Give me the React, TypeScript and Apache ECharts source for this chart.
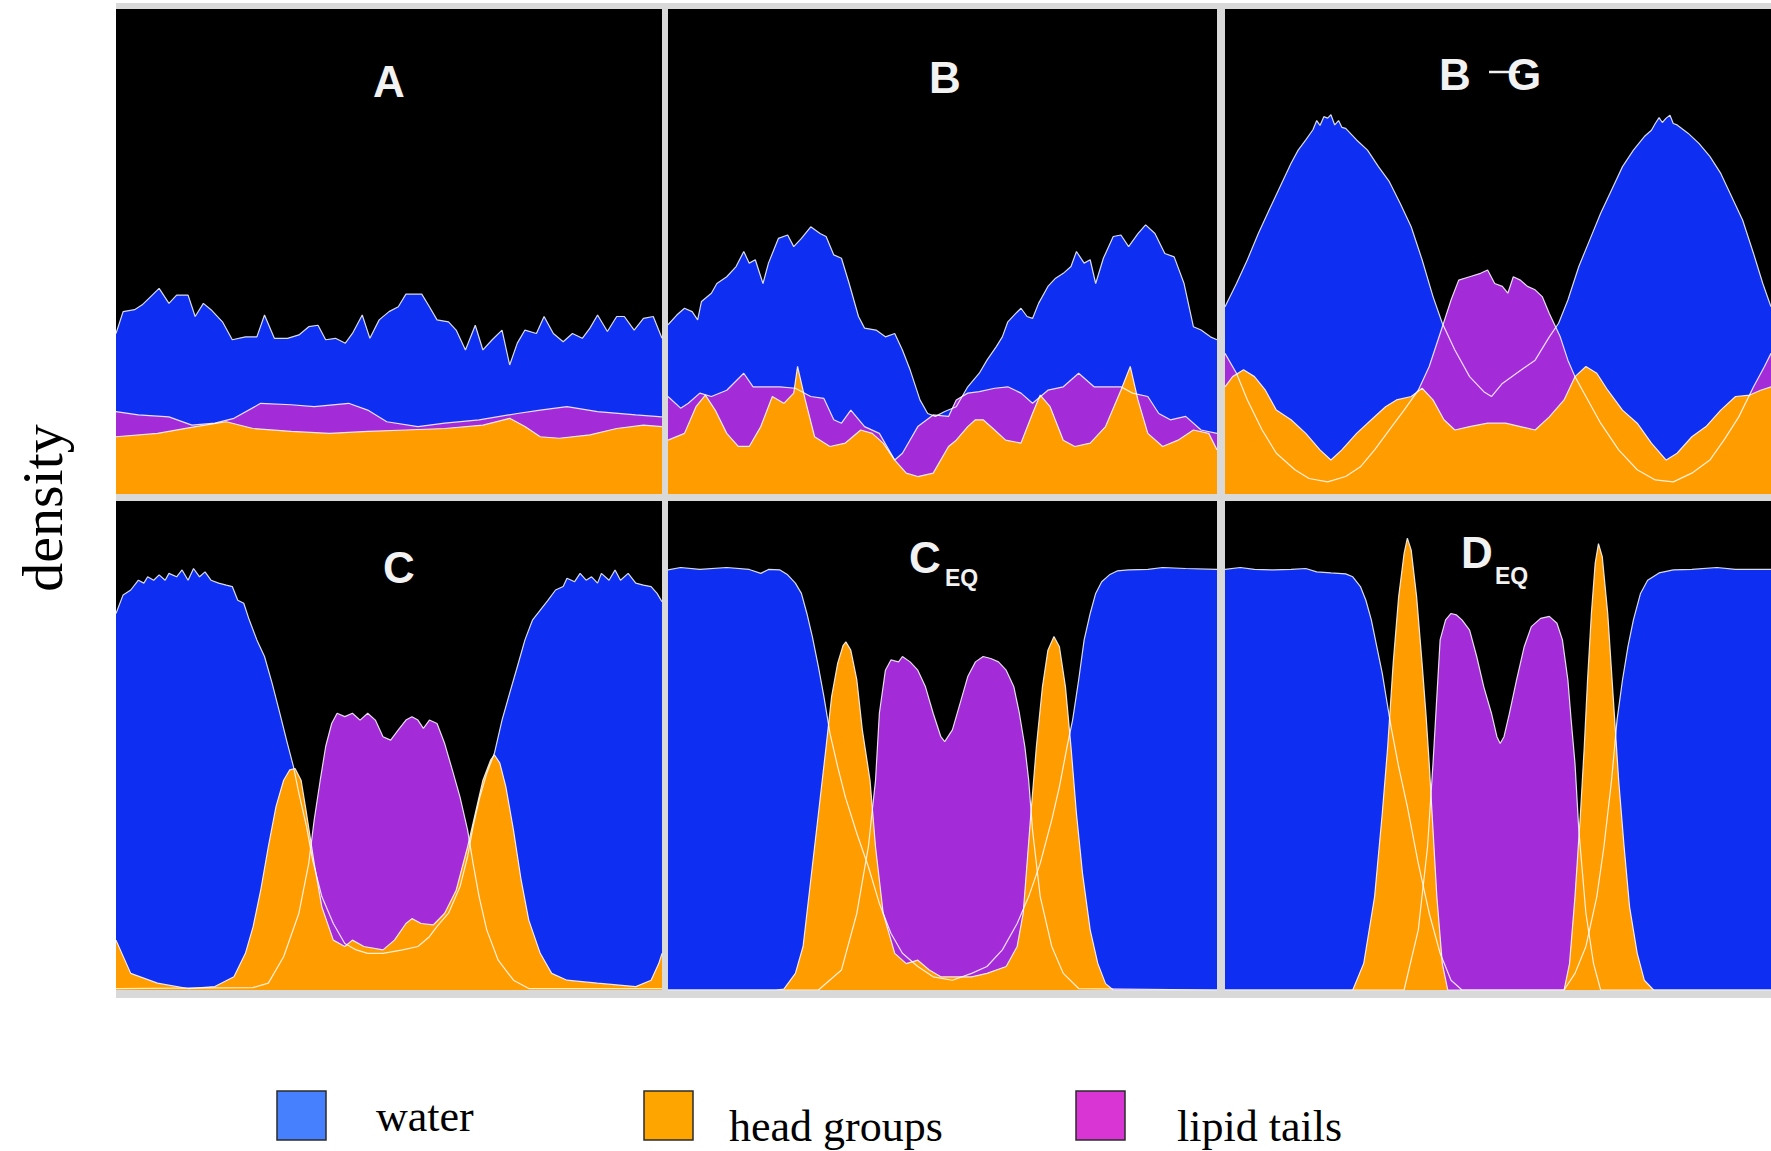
import React, { useEffect, useRef } from "react";
import * as echarts from "echarts";

// ---------- data (x: 0–100 across panel, y: density 0–100 of panel height) ----------
const panelTitles = ["A", "B", "B –G", "C", "CEQ", "DEQ"];
const legendNames = ["water", "head groups", "lipid tails"];

const aWater = [[0,33.1],[1.3,37.6],[3.4,38.0],[4.8,39.0],[7.9,42.4],[9.7,39.3],[11.1,41.0],[13.2,41.0],[14.5,36.6],[16.0,39.3],[17.4,38.0],[19.5,35.5],[21.3,31.8],[23.7,32.4],[25.8,32.4],[27.2,36.9],[29.0,32.1],[31.4,32.1],[33.5,32.8],[35.3,34.5],[37.0,34.8],[38.4,31.8],[40.2,32.1],[42.0,31.1],[43.3,33.1],[45.1,36.9],[46.5,32.1],[48.2,35.9],[50.0,37.6],[51.7,38.6],[53.1,41.2],[56.0,41.2],[57.4,38.6],[58.8,35.9],[60.9,35.5],[62.3,33.8],[64.0,29.7],[65.8,34.8],[67.2,29.7],[68.9,31.8],[70.7,33.8],[72.1,26.6],[73.5,31.1],[74.9,33.8],[77.0,33.1],[78.4,36.6],[80.1,33.1],[81.9,31.4],[83.6,33.1],[85.4,32.1],[86.8,34.2],[88.2,36.9],[90.0,33.5],[91.7,36.6],[93.1,36.6],[94.9,33.8],[96.6,36.2],[98.4,36.6],[100,32.1]];
const aTails = [[0,17.0],[4.1,16.3],[9.7,15.9],[13.9,14.2],[18.1,14.6],[21.6,15.6],[26.5,18.7],[32.1,18.4],[36.3,18.0],[42.6,18.7],[46.1,17.3],[49.6,14.9],[55.3,13.9],[60.2,14.6],[66.5,15.3],[73.5,16.6],[77.7,17.3],[82.6,18.0],[88.2,17.0],[95.2,16.3],[100,15.9]];
const aHeads = [[0,11.8],[7.6,12.5],[14.6,13.9],[20.2,14.9],[25.1,13.5],[32.1,12.9],[39.1,12.5],[46.1,12.9],[53.1,13.2],[60.2,13.5],[67.2,14.2],[72.1,15.6],[74.9,13.9],[77.7,11.8],[81.2,11.5],[86.8,12.2],[91.7,13.5],[96.6,14.2],[100,13.9]];

const bWater = [[0,34.9],[1.6,36.9],[3.0,38.3],[4.4,37.6],[5.4,35.9],[6.1,39.7],[7.9,41.4],[8.9,43.4],[10.7,44.8],[12.4,46.9],[13.8,50.0],[14.8,47.6],[15.9,48.3],[17.3,43.4],[18.3,47.6],[20.1,52.7],[21.8,53.4],[22.9,51.0],[24.3,52.7],[26.0,55.1],[27.7,53.7],[28.8,53.1],[30.2,49.3],[31.6,48.6],[33.0,43.4],[34.7,36.6],[35.8,34.2],[37.9,33.8],[39.6,32.4],[41.3,33.1],[42.7,29.7],[44.1,25.6],[45.9,19.4],[47.3,16.6],[48.7,16.0],[50.4,17.0],[52.5,18.0],[54.6,22.1],[56.7,24.9],[58.1,27.6],[59.8,30.4],[60.9,32.4],[61.9,35.5],[63.3,37.2],[64.3,38.3],[65.4,36.6],[66.4,36.2],[67.5,39.3],[69.2,42.8],[70.6,44.5],[72.0,45.5],[73.4,46.9],[74.4,50.0],[75.8,47.6],[76.9,48.3],[77.9,43.4],[79.3,48.6],[81.1,53.1],[82.5,53.4],[83.9,51.0],[85.6,53.7],[87.0,55.5],[88.7,53.7],[90.5,49.6],[92.2,48.9],[94.0,43.4],[95.7,34.5],[97.1,33.8],[98.8,32.4],[100,31.8]];
const bTails = [[0,20.1],[2.3,17.7],[3.7,18.7],[5.8,20.8],[7.9,20.1],[10.7,21.4],[13.8,24.9],[15.5,22.1],[20.4,22.1],[23.2,21.8],[26.0,20.1],[28.4,19.7],[30.2,15.3],[31.6,14.6],[33.3,17.3],[35.8,13.9],[38.5,12.5],[41.3,7.0],[42.7,8.4],[45.5,13.9],[48.3,16.3],[51.1,16.0],[52.5,19.4],[54.6,20.8],[56.7,21.1],[59.5,21.8],[61.9,22.1],[64.3,20.8],[66.4,18.7],[69.2,21.4],[72.0,22.1],[74.8,24.9],[77.6,22.1],[82.5,22.1],[84.6,20.8],[87.4,20.1],[89.4,16.6],[91.5,15.3],[94.3,16.0],[97.1,13.2],[100,12.5]];
const bHeads = [[0,11.1],[3.0,12.5],[5.1,18.0],[6.8,20.4],[8.6,17.3],[10.7,12.5],[12.8,9.8],[14.8,9.8],[16.9,13.9],[19.0,20.1],[21.1,18.7],[22.9,20.8],[23.6,26.3],[25.0,19.4],[26.7,11.8],[29.5,9.8],[32.3,10.5],[35.1,13.2],[37.2,12.5],[39.2,10.5],[41.3,7.0],[43.4,4.3],[45.5,3.6],[48.3,4.3],[51.1,9.8],[52.5,11.1],[54.6,13.9],[56.0,15.3],[57.4,15.3],[59.5,13.2],[61.5,11.1],[64.3,10.5],[66.4,16.6],[67.8,20.4],[69.6,18.0],[72.0,11.1],[74.1,9.8],[76.9,10.5],[79.7,13.9],[82.5,21.4],[84.2,26.3],[85.6,19.4],[87.4,12.5],[90.1,9.8],[92.9,11.1],[95.7,13.2],[98.5,12.5],[100,9.1]];

const bgWater = [[0,38.6],[2.1,43.4],[4.1,48.3],[6.1,53.7],[8.1,58.6],[10.1,63.4],[12.1,68.2],[13.4,70.9],[14.8,73.0],[16.1,75.1],[16.8,77.0],[17.4,76.0],[18.1,77.8],[18.8,77.5],[19.4,78.2],[20.1,76.1],[20.8,77.0],[21.4,75.6],[22.1,75.4],[24.1,73.0],[26.1,70.9],[28.1,67.5],[30.1,64.4],[32.1,59.9],[34.1,55.1],[36.1,48.3],[38.1,40.7],[39.8,35.2],[42.1,29.7],[44.8,24.2],[47.4,21.1],[48.8,20.1],[50.8,22.8],[53.4,24.9],[56.8,27.6],[59.4,32.4],[61.1,35.2],[62.8,40.0],[64.8,46.9],[66.8,52.4],[68.8,57.9],[70.8,62.7],[72.8,67.5],[74.8,70.9],[76.8,73.7],[78.1,75.0],[78.8,76.4],[79.5,77.6],[80.1,76.6],[80.8,77.5],[81.5,78.1],[82.1,76.4],[82.8,76.1],[84.8,74.4],[86.8,72.3],[88.8,69.6],[90.8,66.1],[92.8,61.3],[94.8,56.5],[96.8,49.6],[98.5,43.4],[100,38.6]];
const bgTails = [[0,29.0],[2.1,24.9],[4.1,19.4],[6.8,13.2],[9.4,8.4],[12.8,5.0],[15.4,3.2],[18.8,2.5],[22.1,3.6],[24.8,5.6],[27.4,9.1],[30.1,13.2],[32.8,17.3],[35.4,21.4],[37.4,26.3],[39.4,33.1],[41.4,40.0],[42.8,44.1],[44.8,44.8],[46.8,45.5],[48.1,46.2],[49.4,43.4],[50.8,42.8],[51.8,41.4],[52.8,44.8],[54.1,44.1],[55.4,42.8],[56.8,42.1],[58.1,40.7],[59.4,37.2],[61.4,32.4],[62.8,27.6],[64.1,24.2],[66.1,20.1],[68.8,14.6],[72.1,9.1],[75.5,5.0],[78.8,2.9],[82.1,2.5],[85.5,4.3],[88.8,7.0],[91.5,11.3],[94.1,15.9],[96.8,22.1],[98.8,26.3],[100,29.0]];
const bgHeads = [[0,22.1],[1.4,24.2],[3.4,25.6],[5.4,24.2],[7.4,21.4],[9.4,17.3],[12.1,15.3],[14.8,12.5],[17.4,9.1],[19.4,7.0],[21.4,9.1],[24.1,12.5],[26.8,15.3],[29.4,18.0],[31.4,19.4],[34.1,20.1],[36.1,21.8],[38.1,19.4],[40.1,15.3],[42.1,13.2],[44.8,13.9],[48.1,14.6],[51.4,14.6],[54.1,13.9],[56.8,13.2],[59.4,15.9],[62.1,19.4],[64.1,24.2],[66.1,26.3],[68.1,24.9],[70.1,21.4],[72.8,17.3],[75.5,14.6],[78.1,10.5],[80.8,7.0],[82.8,8.4],[85.5,11.8],[88.1,13.9],[90.8,17.3],[93.5,20.1],[96.1,20.4],[98.1,21.4],[100,22.1]];

const cWater = [[0,77.0],[1.3,80.8],[2.7,81.8],[4.1,83.8],[5.1,83.2],[5.8,84.5],[6.9,83.8],[7.9,84.9],[9.0,83.8],[9.7,85.2],[11.1,84.5],[12.1,85.9],[13.2,83.8],[14.2,86.2],[15.3,84.5],[16.3,85.5],[17.4,83.8],[18.8,83.2],[20.2,82.8],[21.3,82.5],[22.3,79.7],[23.4,79.1],[24.4,75.7],[25.8,71.6],[27.2,68.2],[28.6,62.7],[30.0,56.6],[31.4,50.4],[32.5,45.7],[33.5,40.2],[34.9,33.4],[36.0,26.6],[37.7,19.1],[39.8,13.6],[41.9,9.5],[44.0,8.2],[46.1,7.5],[48.9,7.5],[52.5,8.2],[55.3,8.9],[57.4,10.9],[58.8,13.0],[60.9,15.7],[63.0,21.1],[64.4,27.3],[65.4,33.4],[66.5,38.9],[67.9,44.3],[69.3,48.4],[70.7,55.2],[72.1,60.7],[73.5,66.1],[74.9,71.6],[76.3,75.7],[77.7,77.7],[79.1,79.7],[80.5,81.8],[81.9,82.5],[82.6,84.2],[84.0,83.5],[85.0,85.2],[86.1,83.8],[87.1,84.5],[88.2,83.2],[88.9,85.2],[90.3,83.8],[91.4,85.9],[92.4,83.8],[93.8,85.2],[95.2,83.2],[96.6,82.8],[98.0,82.5],[99.1,81.1],[100,79.4]];
const cTails = [[0,0.3],[25.1,0.5],[27.9,1.4],[30.7,6.8],[33.5,15.7],[35.3,25.9],[36.3,34.8],[37.4,42.9],[38.4,49.8],[39.5,54.5],[40.5,56.6],[41.9,55.9],[43.3,56.6],[44.7,55.2],[46.1,56.6],[47.5,55.2],[48.9,51.8],[50.3,51.1],[51.7,53.2],[53.1,55.2],[54.2,55.9],[55.3,55.2],[56.3,53.5],[57.4,55.2],[58.8,54.5],[60.2,50.4],[61.6,45.0],[63.0,39.5],[64.4,32.7],[65.4,25.9],[66.5,19.1],[67.9,12.3],[70.0,6.1],[72.8,2.0],[75.6,0.3],[100,0.3]];
const cHeads = [[0,10.2],[2.7,3.4],[7.6,1.4],[13.2,0.3],[18.1,0.7],[21.6,2.7],[23.7,7.5],[25.1,12.9],[26.5,20.4],[27.9,29.3],[29.3,37.5],[30.7,42.9],[31.8,45.0],[32.8,45.3],[33.9,42.9],[34.9,36.1],[36.3,25.9],[37.7,17.0],[39.8,10.2],[41.9,8.9],[43.3,10.2],[45.4,8.9],[48.9,8.2],[51.0,10.2],[53.1,13.6],[54.2,14.6],[55.9,13.6],[58.1,13.3],[60.2,15.7],[62.3,20.4],[64.4,29.3],[65.8,36.1],[67.2,42.9],[68.6,47.0],[69.3,48.1],[70.3,46.4],[71.4,41.6],[72.8,32.7],[74.2,22.5],[75.6,14.3],[77.7,7.5],[79.8,3.4],[82.6,2.0],[88.2,1.4],[95.2,0.7],[98.0,2.0],[99.4,5.4],[100,7.5]];

const ceqWater = [[0,85.9],[2.3,86.4],[5.8,86.0],[10.7,86.4],[14.8,86.0],[16.9,85.2],[18.3,86.0],[20.4,85.9],[21.8,84.9],[23.2,83.2],[24.3,81.1],[25.3,77.0],[26.3,72.2],[27.4,66.1],[28.4,60.0],[29.5,52.5],[30.9,45.7],[32.3,39.5],[34.4,32.0],[36.5,25.2],[38.5,17.7],[40.6,11.6],[42.7,7.5],[45.5,4.8],[48.3,2.7],[51.8,2.0],[55.3,3.4],[58.1,4.8],[60.9,8.2],[63.6,13.6],[65.7,19.1],[67.8,25.9],[69.9,34.8],[71.3,41.6],[72.7,49.8],[73.7,55.2],[74.8,63.4],[75.8,71.6],[76.9,77.0],[77.9,81.1],[79.0,83.5],[80.4,84.9],[81.8,85.7],[83.9,85.9],[87.4,86.0],[90.1,86.4],[94.3,86.2],[100,86.0]];
const ceqTails = [[0,0],[27.4,0],[31.6,4.1],[34.4,15.7],[36.5,29.3],[37.8,42.9],[38.5,56.6],[39.6,65.4],[40.6,67.5],[42.0,67.1],[42.7,68.2],[44.1,67.1],[45.5,65.4],[46.9,62.0],[48.3,56.6],[49.7,51.8],[50.4,50.8],[51.8,53.2],[53.2,58.6],[54.6,64.1],[56.0,67.1],[57.4,68.2],[58.8,67.8],[60.2,67.1],[61.6,65.4],[63.0,62.0],[64.0,56.6],[65.0,49.8],[65.7,42.9],[66.4,32.7],[67.8,19.1],[69.9,8.9],[72.0,3.4],[74.8,0.3],[100,0]];
const ceqHeads = [[0,0],[19.7,0],[21.1,0.2],[23.2,3.4],[24.6,8.9],[26.0,22.5],[27.4,36.1],[28.8,49.8],[29.8,60.0],[30.9,66.8],[31.9,70.5],[32.4,71.2],[33.3,69.5],[34.4,63.4],[35.4,53.2],[36.8,42.9],[37.8,29.3],[39.2,15.7],[41.3,7.5],[43.4,5.4],[45.5,6.1],[47.6,4.1],[49.7,2.7],[52.5,2.7],[55.3,2.7],[58.1,3.4],[61.6,4.8],[63.6,8.9],[64.7,15.7],[65.4,25.9],[66.1,36.1],[67.1,49.8],[68.2,62.0],[69.2,69.5],[70.3,72.3],[71.3,70.2],[72.4,62.0],[73.4,49.8],[74.4,36.1],[75.5,23.9],[76.9,12.3],[78.3,5.4],[79.7,1.3],[81.1,0],[100,0]];

const deqWater = [[0,86.0],[2.8,86.4],[5.4,86.0],[8.8,85.9],[12.1,86.0],[14.8,86.2],[16.8,85.5],[19.4,85.3],[22.1,85.1],[23.4,84.5],[24.8,82.5],[25.8,79.7],[26.8,75.7],[27.8,70.2],[28.8,64.8],[29.6,59.3],[30.4,53.9],[31.8,45.7],[33.4,37.5],[35.4,25.9],[37.4,15.7],[39.4,7.5],[41.4,2.0],[43.4,0],[62.1,0],[64.1,3.4],[66.1,8.9],[68.1,19.1],[69.4,29.3],[70.8,42.9],[71.8,55.2],[72.8,63.4],[73.8,70.2],[74.8,75.7],[76.1,81.1],[77.4,83.8],[79.5,85.3],[82.1,85.9],[85.5,86.0],[90.1,86.4],[93.5,86.0],[100,86.0]];
const deqTails = [[0,0],[32.8,0],[35.4,12.3],[37.1,29.3],[38.1,46.4],[38.8,60.0],[39.4,71.6],[40.4,75.7],[41.4,77.0],[42.4,76.7],[43.4,75.7],[44.8,73.6],[46.1,68.2],[47.4,62.0],[48.8,56.6],[49.8,51.8],[50.4,50.4],[51.1,51.8],[52.1,56.6],[53.4,63.4],[54.8,70.2],[56.1,74.3],[57.8,76.0],[59.4,76.4],[60.8,75.0],[61.8,71.6],[62.8,63.4],[63.4,55.2],[64.1,46.4],[64.8,32.7],[66.1,15.7],[67.5,5.4],[68.8,0],[100,0]];
const deqHeads = [[0,0],[23.4,0],[25.4,5.4],[27.4,19.1],[28.8,36.1],[29.8,49.8],[30.8,66.8],[31.8,80.4],[32.8,89.3],[33.4,92.4],[34.1,90.0],[35.1,80.4],[36.1,66.8],[36.8,56.6],[37.4,46.4],[38.1,32.7],[38.8,19.1],[39.8,5.4],[40.8,0],[62.1,0],[63.1,5.4],[64.1,19.1],[65.1,36.1],[65.8,49.8],[66.4,63.4],[67.1,77.0],[67.8,87.3],[68.4,91.3],[69.1,88.6],[70.1,77.0],[71.1,60.0],[72.1,42.9],[73.1,29.3],[74.1,17.0],[75.5,7.5],[76.8,2.0],[78.5,0],[100,0]];

// ---------- styling / layout ----------
const WATER_FILL = "#0e2ef2";
const TAILS_FILL = "#a32bd8";
const HEADS_FILL = "#ff9c00";
const LEGEND_COLORS = ["#4680ff", "#ffa500", "#d935d5"];
const OUTLINE = "rgba(255,255,255,0.85)";

const panelData = [
  [aWater, aTails, aHeads],
  [bWater, bTails, bHeads],
  [bgWater, bgTails, bgHeads],
  [cWater, cTails, cHeads],
  [ceqWater, ceqTails, ceqHeads],
  [deqWater, deqTails, deqHeads],
];

const gridBoxes = [
  { left: 116, top: 9, width: 546, height: 485 },
  { left: 668, top: 9, width: 549, height: 485 },
  { left: 1225, top: 9, width: 546, height: 485 },
  { left: 116, top: 501, width: 546, height: 489 },
  { left: 668, top: 501, width: 549, height: 489 },
  { left: 1225, top: 501, width: 546, height: 489 },
];

function buildOption() {
  const grid = gridBoxes.map((g) => ({
    ...g,
    show: true,
    backgroundColor: "#000000",
    borderWidth: 0,
    containLabel: false,
  }));
  const xAxis = gridBoxes.map((_, i) => ({
    type: "value",
    gridIndex: i,
    min: 0,
    max: 100,
    show: false,
  }));
  const yAxis = gridBoxes.map((_, i) => ({
    type: "value",
    gridIndex: i,
    min: 0,
    max: 100,
    show: false,
  }));

  const layerNames = ["water", "lipid tails", "head groups"];
  const layerFills = [WATER_FILL, TAILS_FILL, HEADS_FILL];
  const series: any[] = [];
  panelData.forEach((layers, i) => {
    layers.forEach((data, k) => {
      series.push({
        type: "line",
        name: layerNames[k],
        xAxisIndex: i,
        yAxisIndex: i,
        data,
        symbol: "none",
        showSymbol: false,
        silent: true,
        z: 2 + k,
        itemStyle: { color: layerFills[k] },
        lineStyle: { width: 0, opacity: 0 },
        areaStyle: { color: layerFills[k], opacity: 1 },
      });
    });
    layers.forEach((data, k) => {
      series.push({
        type: "line",
        name: layerNames[k] + " outline",
        xAxisIndex: i,
        yAxisIndex: i,
        data,
        symbol: "none",
        showSymbol: false,
        silent: true,
        z: 6,
        lineStyle: { color: OUTLINE, width: 1.2 },
      });
    });
  });

  const titleFont = "bold 44px 'Liberation Sans', Arial, sans-serif";
  const subFont = "bold 23px 'Liberation Sans', Arial, sans-serif";
  const t = (text: string, x: number, y: number, font: string, align = "center") => ({
    type: "text",
    x,
    y,
    z: 100,
    silent: true,
    style: { text, font, fill: "#f2f2f2", align, verticalAlign: "middle" },
  });

  const graphic: any[] = [
    {
      type: "rect",
      z: -10,
      silent: true,
      shape: { x: 116, y: 3, width: 1655, height: 995 },
      style: { fill: "#d9d9d9" },
    },
    t(panelTitles[0], 389, 81, titleFont),
    t(panelTitles[1], 945, 77, titleFont),
    t("B", 1455, 74, titleFont),
    t("G", 1524, 74, titleFont),
    {
      type: "line",
      z: 101,
      silent: true,
      shape: { x1: 1489, y1: 72, x2: 1520, y2: 72 },
      style: { stroke: "#f2f2f2", lineWidth: 2.5 },
    },
    t(panelTitles[3], 399, 567, titleFont),
    t("C", 925, 557, titleFont),
    t("EQ", 945, 578, subFont, "left"),
    t("D", 1477, 552, titleFont),
    t("EQ", 1495, 576, subFont, "left"),
    {
      type: "text",
      x: 42,
      y: 508,
      rotation: Math.PI / 2,
      silent: true,
      style: {
        text: "density",
        font: "58px 'Liberation Serif', 'Times New Roman', serif",
        fill: "#000",
        align: "center",
        verticalAlign: "middle",
      },
    },
  ];

  const legendSquares = [277, 644, 1076];
  const legendTextX = [376, 729, 1177];
  const legendTextY = [1116, 1126, 1126];
  legendNames.forEach((name, k) => {
    graphic.push({
      type: "rect",
      silent: true,
      shape: { x: legendSquares[k], y: 1091, width: 49, height: 49 },
      style: { fill: LEGEND_COLORS[k], stroke: "#2b2b2b", lineWidth: 1.5 },
    });
    graphic.push({
      type: "text",
      x: legendTextX[k],
      y: legendTextY[k],
      silent: true,
      style: {
        text: name,
        font: "44px 'Liberation Serif', 'Times New Roman', serif",
        fill: "#000",
        align: "left",
        verticalAlign: "middle",
      },
    });
  });

  return {
    animation: false,
    backgroundColor: "#ffffff",
    grid,
    xAxis,
    yAxis,
    series,
    graphic,
  };
}

export default function App() {
  const ref = useRef<HTMLDivElement>(null);
  useEffect(() => {
    document.body.style.margin = "0";
    if (!ref.current) return;
    const chart = echarts.init(ref.current, undefined, { renderer: "svg" });
    chart.setOption(buildOption() as any);
    return () => chart.dispose();
  }, []);
  return <div ref={ref} style={{ width: 1771, height: 1151 }} />;
}
